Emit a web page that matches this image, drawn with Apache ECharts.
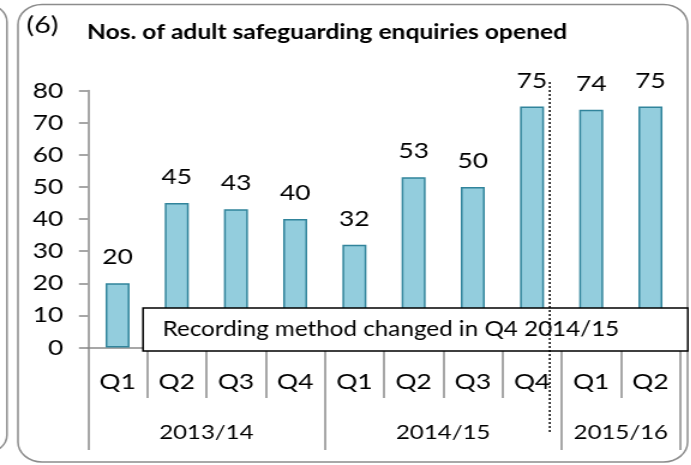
<!DOCTYPE html>
<html>
<head>
<meta charset="utf-8">
<script src="https://cdn.jsdelivr.net/npm/echarts@6/dist/echarts.min.js"></script>
<style>
  html, body { margin: 0; padding: 0; background: #fff; overflow: hidden; }
  /* the reference is a little stretched sideways, so draw narrow and widen */
  #chart { width: 576px; height: 465px; transform: scaleX(1.2); transform-origin: 0 0; }
</style>
</head>
<body>
<div id="chart"></div>
<script>
  // quarters and counts
  var quarters = ['Q1', 'Q2', 'Q3', 'Q4', 'Q1', 'Q2', 'Q3', 'Q4', 'Q1', 'Q2'];
  var enquiries = [20, 45, 43, 40, 32, 53, 50, 75, 74, 75];
  // financial years and how many quarters each covers
  var years = ['2013/14', '2014/15', '2015/16'];
  var yearSizes = [4, 4, 2];
  var yTicks = [0, 10, 20, 30, 40, 50, 60, 70, 80];
  var changeNote = 'Recording method changed in Q4 2014/15';
  var changeAt = 7.8;   // in quarters, where the dotted line sits

  var font = 'Lato, "Noto Sans", sans-serif';
  var axisGrey = '#8a8a8a';

  // year boundaries and centres along a 0..n quarter scale
  var bounds = [0], centres = [];
  yearSizes.forEach(function (n, i) {
    centres.push(bounds[i] + n / 2);
    bounds.push(bounds[i] + n);
  });

  var chart = echarts.init(document.getElementById('chart'));
  chart.setOption({
    animation: false,
    textStyle: { fontFamily: font },
    grid: { left: 73.3, right: 9.3, top: 90.5, bottom: 117.5 },
    xAxis: [
      {
        type: 'category',
        data: quarters,
        axisLine: { show: true, lineStyle: { color: axisGrey, width: 1.5 } },
        axisTick: { show: true, interval: 0, length: 50.5, lineStyle: { color: axisGrey, width: 1.5 } },
        axisLabel: { color: '#000', fontSize: 22, margin: 23, fontFamily: font }
      },
      {
        type: 'value',
        min: 0,
        max: quarters.length,
        position: 'bottom',
        axisLine: { show: false },
        splitLine: { show: false },
        axisTick: {
          show: true,
          customValues: bounds,
          length: 102.5,
          lineStyle: { color: axisGrey, width: 1.5 }
        },
        axisLabel: {
          customValues: centres,
          color: '#000',
          fontSize: 20,
          margin: 75,
          fontFamily: font,
          formatter: function (v) {
            var i = centres.indexOf(v);
            return i >= 0 ? years[i] : '';
          }
        }
      }
    ],
    yAxis: {
      type: 'value',
      min: yTicks[0],
      max: yTicks[yTicks.length - 1],
      interval: 10,
      splitLine: { show: false },
      axisLine: { show: true, lineStyle: { color: axisGrey, width: 1.5 } },
      axisTick: { show: true, length: 7.5, lineStyle: { color: axisGrey, width: 1.5 } },
      axisLabel: { color: '#000', fontSize: 22, margin: 20.5, fontFamily: font }
    },
    series: [{
      type: 'bar',
      xAxisIndex: 0,
      data: enquiries,
      barWidth: 20,
      itemStyle: { color: '#93cddd', borderColor: '#31849b', borderWidth: 1.5 },
      label: {
        show: true,
        position: 'top',
        distance: 15,
        color: '#000',
        fontSize: 22,
        fontFamily: font
      }
    }]
  });

  // panels, title, note box and the dotted change line
  var lineX = chart.convertToPixel({ xAxisIndex: 1 }, changeAt);
  chart.setOption({
    graphic: [
      {
        type: 'rect', z: 0, silent: true,
        shape: { x: -300, y: 4, width: 305.8, height: 449, r: 18 },
        style: { fill: null, stroke: '#8c8c8c', lineWidth: 1.5 }
      },
      {
        type: 'rect', z: 0, silent: true,
        shape: { x: 15, y: 4.5, width: 558, height: 457.5, r: 20 },
        style: { fill: null, stroke: '#8c8c8c', lineWidth: 1.5 }
      },
      {
        type: 'text', z: 60, left: 22, top: 13,
        style: { text: '(6)', fontSize: 24, fontFamily: font, fill: '#000' }
      },
      {
        type: 'text', z: 60, left: 72.5, top: 22,
        style: {
          text: 'Nos. of adult safeguarding enquiries opened',
          fontSize: 20.5, fontWeight: 'bold', fontFamily: font, fill: '#000'
        }
      },
      {
        type: 'rect', z: 50, silent: true,
        shape: { x: 119.2, y: 308, width: 454, height: 43 },
        style: { fill: '#fff', stroke: '#000', lineWidth: 1.5 }
      },
      {
        type: 'text', z: 55, left: 135.5, top: 319,
        style: { text: changeNote, fontSize: 20.2, fontFamily: font, fill: '#000' }
      },
      {
        type: 'line', z: 70, silent: true,
        shape: { x1: lineX, y1: 82, x2: lineX, y2: 433 },
        style: { stroke: '#000', lineWidth: 1.5, lineDash: [2, 2] }
      }
    ]
  });
</script>
</body>
</html>
